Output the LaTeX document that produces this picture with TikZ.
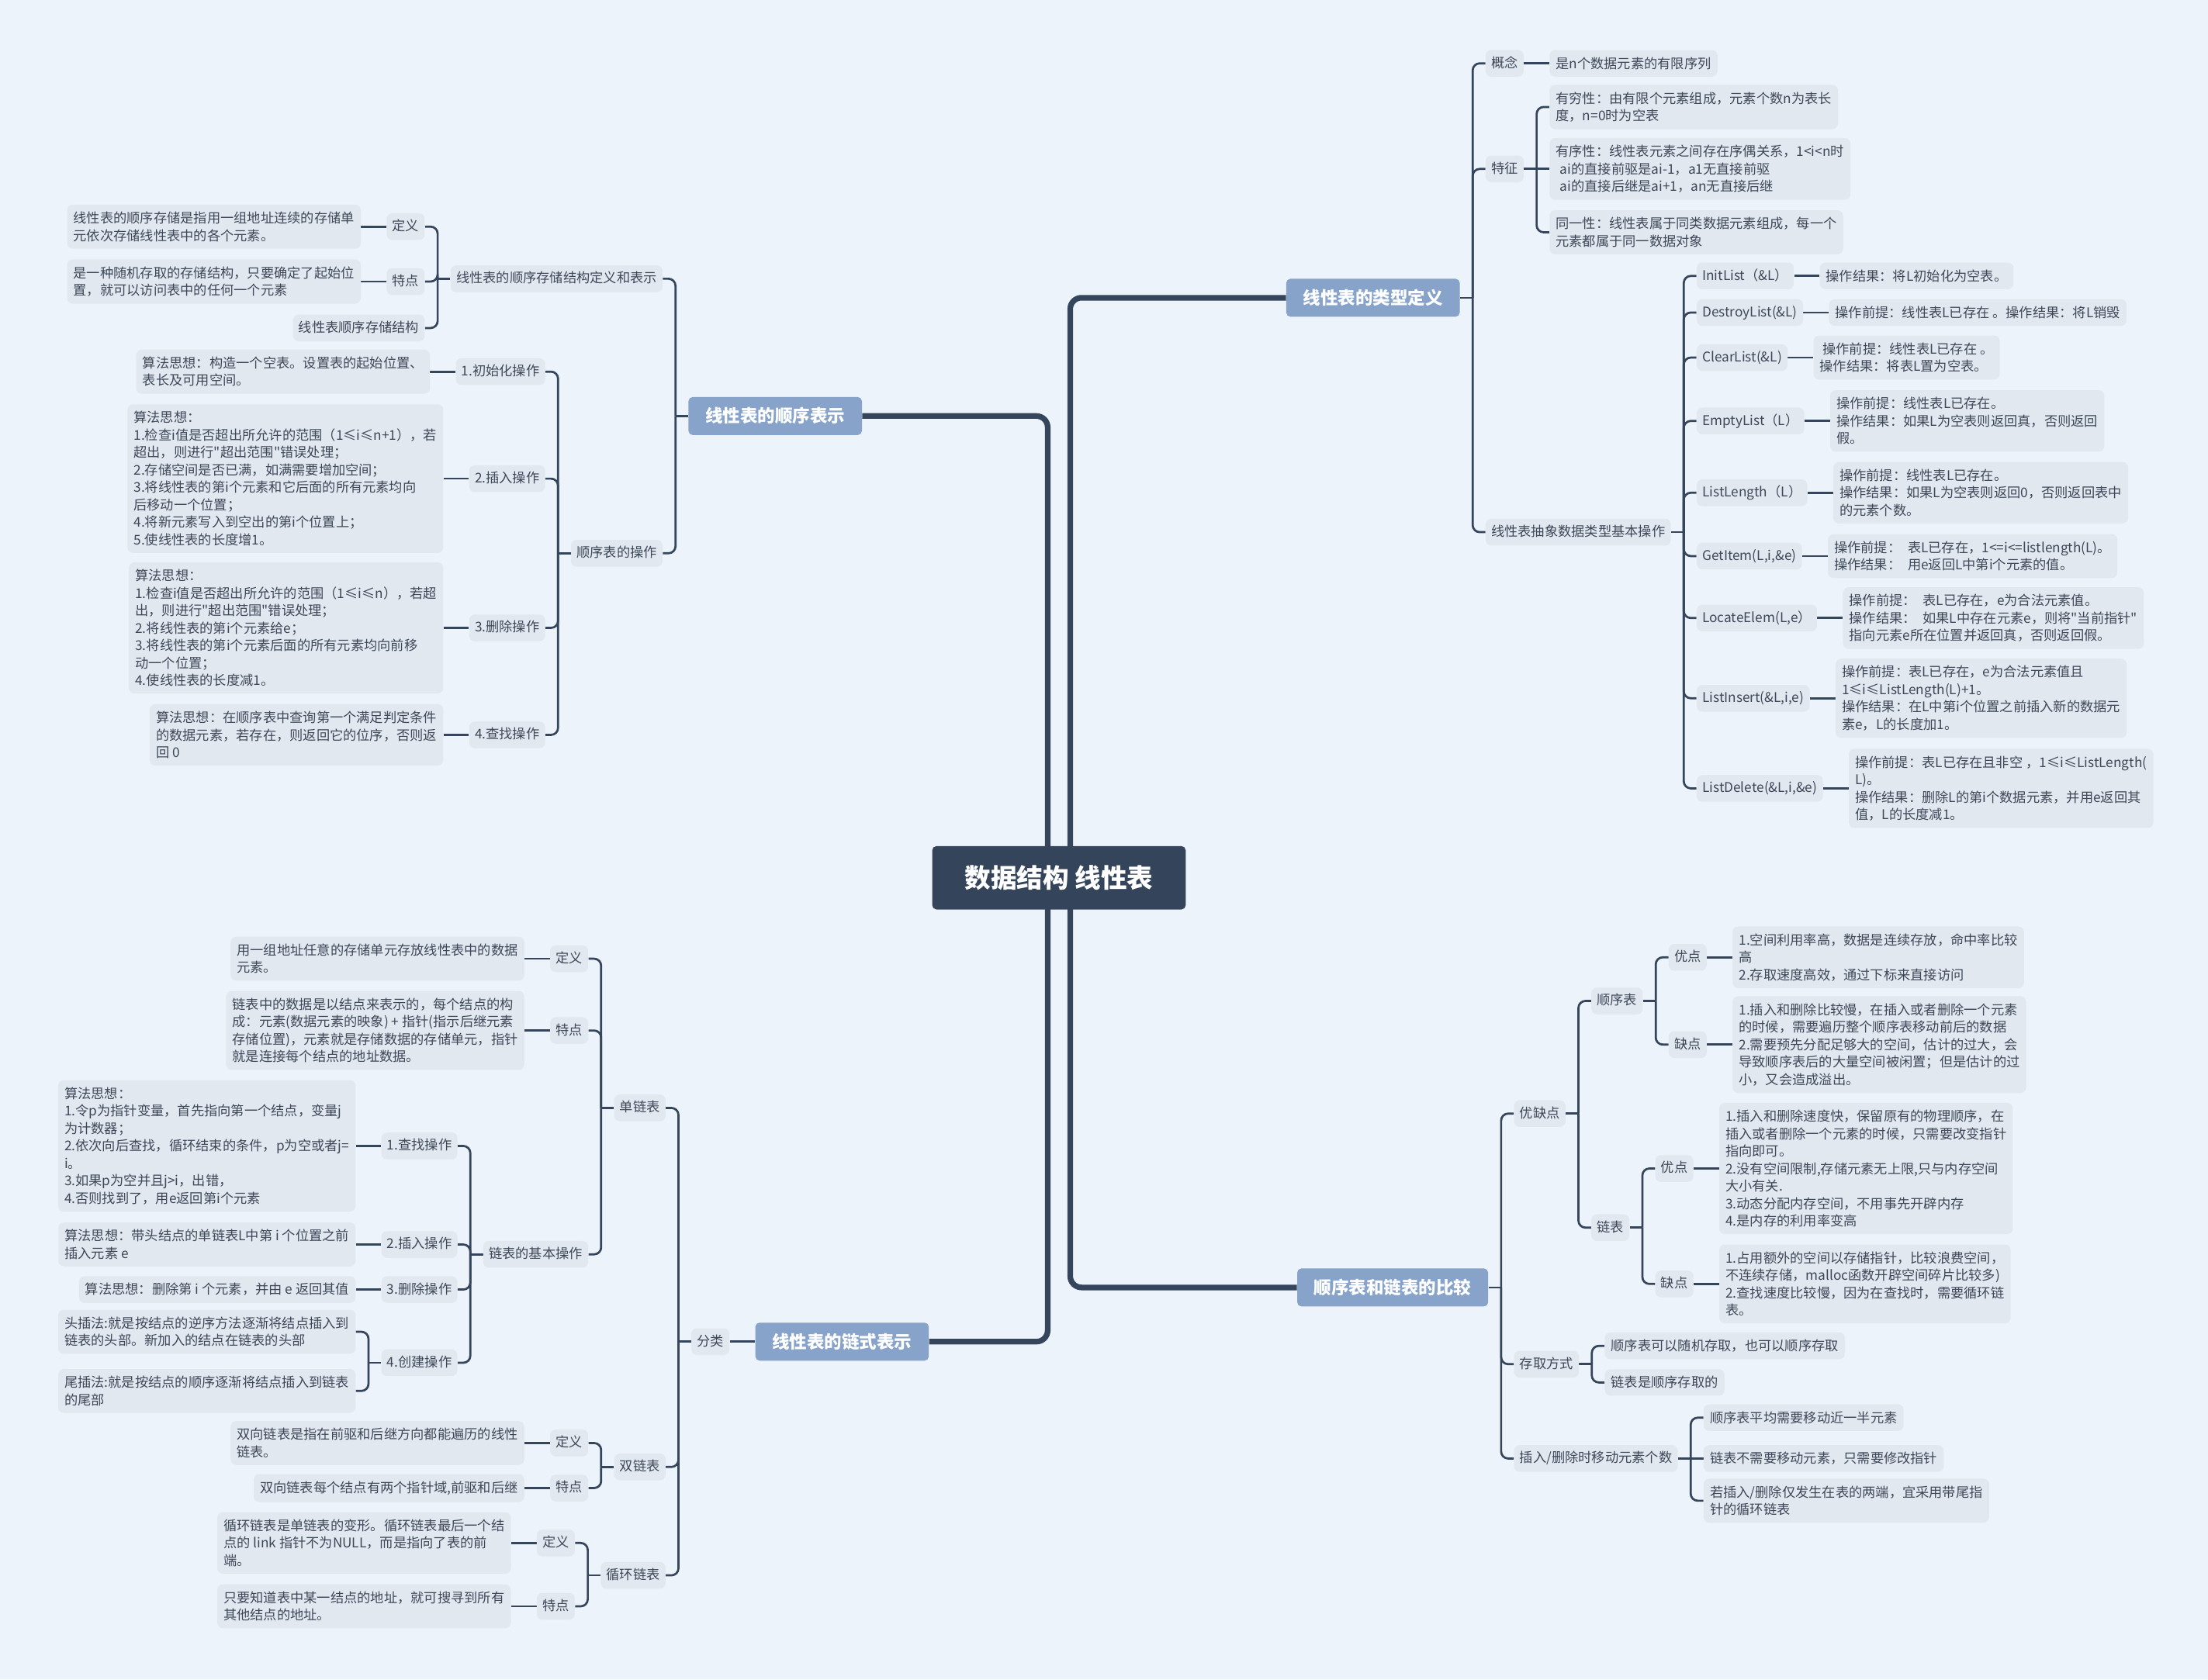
\documentclass[tikz,border=0pt]{standalone}
\usepackage{fontspec}
\setmainfont{Noto Sans CJK SC}[Ligatures=TeXOff]
\usetikzlibrary{positioning}
\definecolor{bgc}{HTML}{EDF3FA}
\definecolor{leaff}{HTML}{E1E8F0}
\definecolor{linec}{HTML}{35455B}
\definecolor{topicf}{HTML}{87A3CA}
\definecolor{rootf}{HTML}{34455B}
\definecolor{txt}{HTML}{3D4757}
\pgfdeclarelayer{bgl}\pgfdeclarelayer{lines}
\pgfsetlayers{bgl,lines,main}
\tikzset{
 leaf/.style={fill=leaff, text=txt, rounded corners=4pt, align=left, font=\fontsize{9.5}{12.4}\selectfont, inner xsep=4.5pt, inner ysep=5pt},
 mid/.style={fill=leaff, text=txt, rounded corners=4pt, font=\fontsize{9.5}{12.4}\selectfont, inner xsep=4pt, inner ysep=4.5pt, text height=8pt, text depth=2pt},
 topic/.style={fill=topicf, text=white, rounded corners=3pt, font=\fontsize{12.4}{15}\selectfont\bfseries, inner xsep=12pt, minimum height=27pt},
 rootn/.style={fill=rootf, text=white, rounded corners=3pt, font=\fontsize{18.5}{22}\selectfont\bfseries, minimum width=180pt, minimum height=45pt},
 br/.style={draw=linec, line width=1.5pt, rounded corners=5pt},
 sl/.style={draw=linec, line width=1.5pt},
 mainl/.style={draw=linec, line width=4pt, rounded corners=8pt},
}
\newcommand\bkL[3]{\draw[sl] (#1.west) -- ++(-#2pt,0pt); \foreach \cc in {#3}{\draw[br] (#1.west) ++(-#2pt,0pt) |- (\cc.east);}}
\newcommand\bkR[3]{\draw[sl] (#1.east) -- ++(#2pt,0pt); \foreach \cc in {#3}{\draw[br] (#1.east) ++(#2pt,0pt) |- (\cc.west);}}
\newcommand\lnL[2]{\draw[sl] (#1.west) -- (#2.east);}
\newcommand\lnR[2]{\draw[sl] (#1.east) -- (#2.west);}
\begin{document}
\begin{tikzpicture}[x=1pt,y=-1pt]
\begin{pgfonlayer}{bgl}
\fill[bgc] (0,0) rectangle (1568,1193);
\end{pgfonlayer}
\useasboundingbox (0,0) rectangle (1568,1193);

% root and topics
\node[rootn] (root) at (752,623.5) {数据结构 线性表};
\node[topic] (seq) at (550.5,295.5) {线性表的顺序表示};
\node[topic] (typ) at (975,211.5) {线性表的类型定义};
\node[topic] (lnk) at (598,953) {线性表的链式表示};
\node[topic] (cmp) at (989,914.5) {顺序表和链表的比较};

% ===== upper left =====
\node[mid, anchor=east] (sA) at ([xshift=-18pt]seq.west |- 0,198) {线性表的顺序存储结构定义和表示};
\node[mid, anchor=east] (sB) at ([xshift=-18pt]seq.west |- 0,393) {顺序表的操作};
\node[mid, anchor=east] (sA1) at ([xshift=-18pt]sA.west |- 0,161) {定义};
\node[mid, anchor=east] (sA2) at ([xshift=-18pt]sA.west |- 0,200) {特点};
\node[mid, anchor=east] (sA3) at ([xshift=-18pt]sA.west |- 0,233) {线性表顺序存储结构};
\node[leaf, left=18pt of sA1] (sA1L) {线性表的顺序存储是指用一组地址连续的存储单\\元依次存储线性表中的各个元素。};
\node[leaf, left=18pt of sA2] (sA2L) {是一种随机存取的存储结构，只要确定了起始位\\置，就可以访问表中的任何一个元素};
\node[mid, anchor=east] (sB1) at ([xshift=-18pt]sB.west |- 0,264) {1.初始化操作};
\node[mid, anchor=east] (sB2) at ([xshift=-18pt]sB.west |- 0,340) {2.插入操作};
\node[mid, anchor=east] (sB3) at ([xshift=-18pt]sB.west |- 0,446) {3.删除操作};
\node[mid, anchor=east] (sB4) at ([xshift=-18pt]sB.west |- 0,522) {4.查找操作};
\node[leaf, left=18pt of sB1] (sB1L) {算法思想：构造一个空表。设置表的起始位置、\\表长及可用空间。};
\node[leaf, left=18pt of sB2] (sB2L) {算法思想：\\1.检查i值是否超出所允许的范围（1≤i≤n+1），若\\超出，则进行"超出范围"错误处理；\\2.存储空间是否已满，如满需要增加空间；\\3.将线性表的第i个元素和它后面的所有元素均向\\后移动一个位置；\\4.将新元素写入到空出的第i个位置上；\\5.使线性表的长度增1。};
\node[leaf, left=18pt of sB3] (sB3L) {算法思想：\\1.检查i值是否超出所允许的范围（1≤i≤n），若超\\出，则进行"超出范围"错误处理；\\2.将线性表的第i个元素给e；\\3.将线性表的第i个元素后面的所有元素均向前移\\动一个位置；\\4.使线性表的长度减1。};
\node[leaf, left=18pt of sB4] (sB4L) {算法思想：在顺序表中查询第一个满足判定条件\\的数据元素，若存在，则返回它的位序，否则返\\回 0};

% ===== upper right =====
\node[mid, anchor=west] (tA) at ([xshift=18pt]typ.east |- 0,45) {概念};
\node[mid, anchor=west] (tB) at ([xshift=18pt]typ.east |- 0,120) {特征};
\node[mid, anchor=west] (tC) at ([xshift=18pt]typ.east |- 0,378) {线性表抽象数据类型基本操作};
\node[leaf, right=18pt of tA] (tAL) {是n个数据元素的有限序列};
\node[leaf, anchor=west] (tB1) at ([xshift=18pt]tB.east |- 0,76) {有穷性：由有限个元素组成，元素个数n为表长\\度，n=0时为空表};
\node[leaf, anchor=west] (tB2) at ([xshift=18pt]tB.east |- 0,120) {有序性：线性表元素之间存在序偶关系，1<i<n时\\\hspace*{3pt}ai的直接前驱是ai-1，a1无直接前驱\\\hspace*{3pt}ai的直接后继是ai+1，an无直接后继};
\node[leaf, anchor=west] (tB3) at ([xshift=18pt]tB.east |- 0,165) {同一性：线性表属于同类数据元素组成，每一个\\元素都属于同一数据对象};
\node[mid, anchor=west] (f1) at ([xshift=18pt]tC.east |- 0,196) {InitList（\&L）};
\node[mid, anchor=west] (f2) at ([xshift=18pt]tC.east |- 0,222) {DestroyList(\&L)};
\node[mid, anchor=west] (f3) at ([xshift=18pt]tC.east |- 0,254) {ClearList(\&L)};
\node[mid, anchor=west] (f4) at ([xshift=18pt]tC.east |- 0,299) {EmptyList（L）};
\node[mid, anchor=west] (f5) at ([xshift=18pt]tC.east |- 0,350) {ListLength（L）};
\node[mid, anchor=west] (f6) at ([xshift=18pt]tC.east |- 0,395) {GetItem(L,i,\&e)};
\node[mid, anchor=west] (f7) at ([xshift=18pt]tC.east |- 0,439) {LocateElem(L,e）};
\node[mid, anchor=west] (f8) at ([xshift=18pt]tC.east |- 0,496) {ListInsert(\&L,i,e)};
\node[mid, anchor=west] (f9) at ([xshift=18pt]tC.east |- 0,560) {ListDelete(\&L,i,\&e)};
\node[leaf, right=18pt of f1] (f1L) {操作结果：将L初始化为空表。};
\node[leaf, right=18pt of f2] (f2L) {操作前提：线性表L已存在 。操作结果：将L销毁};
\node[leaf, right=18pt of f3] (f3L) {\hspace*{2pt}操作前提：线性表L已存在 。\\操作结果：将表L置为空表。};
\node[leaf, right=18pt of f4] (f4L) {操作前提：线性表L已存在。\\操作结果：如果L为空表则返回真，否则返回\\假。};
\node[leaf, right=18pt of f5] (f5L) {操作前提：线性表L已存在。\\操作结果：如果L为空表则返回0，否则返回表中\\的元素个数。};
\node[leaf, right=18pt of f6] (f6L) {操作前提：\enspace 表L已存在，1<=i<=listlength(L)。\\操作结果：\enspace 用e返回L中第i个元素的值。};
\node[leaf, right=18pt of f7] (f7L) {操作前提：\enspace 表L已存在，e为合法元素值。\\操作结果：\enspace 如果L中存在元素e，则将"当前指针"\\指向元素e所在位置并返回真，否则返回假。};
\node[leaf, right=18pt of f8] (f8L) {操作前提：表L已存在，e为合法元素值且\\1≤i≤ListLength(L)+1。\\操作结果：在L中第i个位置之前插入新的数据元\\素e，L的长度加1。};
\node[leaf, right=18pt of f9] (f9L) {操作前提：表L已存在且非空 ，1≤i≤ListLength(\\L)。\\操作结果：删除L的第i个数据元素，并用e返回其\\值，L的长度减1。};

% ===== lower right =====
\node[mid, anchor=west] (cA) at ([xshift=18pt]cmp.east |- 0,791) {优缺点};
\node[mid, anchor=west] (cB) at ([xshift=18pt]cmp.east |- 0,969) {存取方式};
\node[mid, anchor=west] (cC) at ([xshift=18pt]cmp.east |- 0,1036) {插入/删除时移动元素个数};
\node[mid, anchor=west] (cA1) at ([xshift=18pt]cA.east |- 0,711) {顺序表};
\node[mid, anchor=west] (cA2) at ([xshift=18pt]cA.east |- 0,872) {链表};
\node[mid, anchor=west] (cA1a) at ([xshift=18pt]cA1.east |- 0,680) {优点};
\node[mid, anchor=west] (cA1b) at ([xshift=18pt]cA1.east |- 0,742) {缺点};
\node[mid, anchor=west] (cA2a) at ([xshift=18pt]cA2.east |- 0,830) {优点};
\node[mid, anchor=west] (cA2b) at ([xshift=18pt]cA2.east |- 0,912) {缺点};
\node[leaf, right=18pt of cA1a] (cA1aL) {1.空间利用率高，数据是连续存放，命中率比较\\高\\2.存取速度高效，通过下标来直接访问};
\node[leaf, right=18pt of cA1b] (cA1bL) {1.插入和删除比较慢，在插入或者删除一个元素\\的时候，需要遍历整个顺序表移动前后的数据\\2.需要预先分配足够大的空间，估计的过大，会\\导致顺序表后的大量空间被闲置；但是估计的过\\小，又会造成溢出。};
\node[leaf, right=18pt of cA2a] (cA2aL) {1.插入和删除速度快，保留原有的物理顺序，在\\插入或者删除一个元素的时候，只需要改变指针\\指向即可。\\2.没有空间限制,存储元素无上限,只与内存空间\\大小有关.\\3.动态分配内存空间，不用事先开辟内存\\4.是内存的利用率变高};
\node[leaf, right=18pt of cA2b] (cA2bL) {1.占用额外的空间以存储指针，比较浪费空间，\\不连续存储，malloc函数开辟空间碎片比较多)\\2.查找速度比较慢，因为在查找时，需要循环链\\表。};
\node[leaf, anchor=west] (cB1) at ([xshift=18pt]cB.east |- 0,956) {顺序表可以随机存取，也可以顺序存取};
\node[leaf, anchor=west] (cB2) at ([xshift=18pt]cB.east |- 0,982) {链表是顺序存取的};
\node[leaf, anchor=west] (cC1) at ([xshift=18pt]cC.east |- 0,1007) {顺序表平均需要移动近一半元素};
\node[leaf, anchor=west] (cC2) at ([xshift=18pt]cC.east |- 0,1036) {链表不需要移动元素，只需要修改指针};
\node[leaf, anchor=west] (cC3) at ([xshift=18pt]cC.east |- 0,1066) {若插入/删除仅发生在表的两端，宜采用带尾指\\针的循环链表};

% ===== lower left =====
\node[mid, left=18pt of lnk] (L0) {分类};
\node[mid, anchor=east] (L1) at ([xshift=-18pt]L0.west |- 0,787) {单链表};
\node[mid, anchor=east] (L2) at ([xshift=-18pt]L0.west |- 0,1042) {双链表};
\node[mid, anchor=east] (L3) at ([xshift=-18pt]L0.west |- 0,1119) {循环链表};
\node[mid, anchor=east] (L1a) at ([xshift=-18pt]L1.west |- 0,681) {定义};
\node[mid, anchor=east] (L1b) at ([xshift=-18pt]L1.west |- 0,732) {特点};
\node[mid, anchor=east] (L1c) at ([xshift=-18pt]L1.west |- 0,891) {链表的基本操作};
\node[leaf, left=18pt of L1a] (L1aL) {用一组地址任意的存储单元存放线性表中的数据\\元素。};
\node[leaf, left=18pt of L1b] (L1bL) {链表中的数据是以结点来表示的，每个结点的构\\成：元素(数据元素的映象) + 指针(指示后继元素\\存储位置)，元素就是存储数据的存储单元，指针\\就是连接每个结点的地址数据。};
\node[mid, anchor=east] (L1c1) at ([xshift=-18pt]L1c.west |- 0,814) {1.查找操作};
\node[mid, anchor=east] (L1c2) at ([xshift=-18pt]L1c.west |- 0,884) {2.插入操作};
\node[mid, anchor=east] (L1c3) at ([xshift=-18pt]L1c.west |- 0,916) {3.删除操作};
\node[mid, anchor=east] (L1c4) at ([xshift=-18pt]L1c.west |- 0,968) {4.创建操作};
\node[leaf, left=18pt of L1c1] (L1c1L) {算法思想：\\1.令p为指针变量，首先指向第一个结点，变量j\\为计数器；\\2.依次向后查找，循环结束的条件，p为空或者j=\\i。\\3.如果p为空并且j>i，出错，\\4.否则找到了，用e返回第i个元素};
\node[leaf, left=18pt of L1c2] (L1c2L) {算法思想：带头结点的单链表L中第 i 个位置之前\\插入元素 e};
\node[leaf, left=18pt of L1c3] (L1c3L) {算法思想：删除第 i 个元素，并由 e 返回其值};
\node[leaf, anchor=east] (L1c4a) at ([xshift=-18pt]L1c4.west |- 0,946) {头插法:就是按结点的逆序方法逐渐将结点插入到\\链表的头部。新加入的结点在链表的头部};
\node[leaf, anchor=east] (L1c4b) at ([xshift=-18pt]L1c4.west |- 0,988) {尾插法:就是按结点的顺序逐渐将结点插入到链表\\的尾部};
\node[mid, anchor=east] (L2a) at ([xshift=-18pt]L2.west |- 0,1025) {定义};
\node[mid, anchor=east] (L2b) at ([xshift=-18pt]L2.west |- 0,1057) {特点};
\node[leaf, left=18pt of L2a] (L2aL) {双向链表是指在前驱和后继方向都能遍历的线性\\链表。};
\node[leaf, left=18pt of L2b] (L2bL) {双向链表每个结点有两个指针域,前驱和后继};
\node[mid, anchor=east] (L3a) at ([xshift=-18pt]L3.west |- 0,1096) {定义};
\node[mid, anchor=east] (L3b) at ([xshift=-18pt]L3.west |- 0,1141) {特点};
\node[leaf, left=18pt of L3a] (L3aL) {循环链表是单链表的变形。循环链表最后一个结\\点的 link 指针不为NULL，而是指向了表的前\\端。};
\node[leaf, left=18pt of L3b] (L3bL) {只要知道表中某一结点的地址，就可搜寻到所有\\其他结点的地址。};

\begin{pgfonlayer}{lines}
\draw[mainl] ([xshift=-8pt]root.center) |- (seq.east);
\draw[mainl] ([xshift=-8pt]root.center) |- (lnk.east);
\draw[mainl] ([xshift=8pt]root.center) |- (typ.west);
\draw[mainl] ([xshift=8pt]root.center) |- (cmp.west);
% upper left
\bkL{seq}{9}{sA,sB}
\bkL{sA}{9}{sA1,sA2,sA3}
\lnL{sA1}{sA1L}
\lnL{sA2}{sA2L}
\bkL{sB}{9}{sB1,sB2,sB3,sB4}
\lnL{sB1}{sB1L}
\lnL{sB2}{sB2L}
\lnL{sB3}{sB3L}
\lnL{sB4}{sB4L}
% upper right
\bkR{typ}{9}{tA,tB,tC}
\lnR{tA}{tAL}
\bkR{tB}{9}{tB1,tB3}
\lnR{tB}{tB2}
\bkR{tC}{9}{f1,f2,f3,f4,f5,f6,f7,f8,f9}
\lnR{f1}{f1L}
\lnR{f2}{f2L}
\lnR{f3}{f3L}
\lnR{f4}{f4L}
\lnR{f5}{f5L}
\lnR{f6}{f6L}
\lnR{f7}{f7L}
\lnR{f8}{f8L}
\lnR{f9}{f9L}
% lower right
\bkR{cmp}{9}{cA,cB,cC}
\bkR{cA}{9}{cA1,cA2}
\bkR{cA1}{9}{cA1a,cA1b}
\bkR{cA2}{9}{cA2a,cA2b}
\lnR{cA1a}{cA1aL}
\lnR{cA1b}{cA1bL}
\lnR{cA2a}{cA2aL}
\lnR{cA2b}{cA2bL}
\bkR{cB}{9}{cB1,cB2}
\bkR{cC}{9}{cC1,cC3}
\lnR{cC}{cC2}
% lower left
\lnL{lnk}{L0}
\bkL{L0}{9}{L1,L2,L3}
\bkL{L1}{9}{L1a,L1b,L1c}
\lnL{L1a}{L1aL}
\lnL{L1b}{L1bL}
\bkL{L1c}{9}{L1c1,L1c2,L1c3,L1c4}
\lnL{L1c1}{L1c1L}
\lnL{L1c2}{L1c2L}
\lnL{L1c3}{L1c3L}
\bkL{L1c4}{9}{L1c4a,L1c4b}
\bkL{L2}{9}{L2a,L2b}
\lnL{L2a}{L2aL}
\lnL{L2b}{L2bL}
\bkL{L3}{9}{L3a,L3b}
\lnL{L3a}{L3aL}
\lnL{L3b}{L3bL}
\end{pgfonlayer}
\end{tikzpicture}
\end{document}
